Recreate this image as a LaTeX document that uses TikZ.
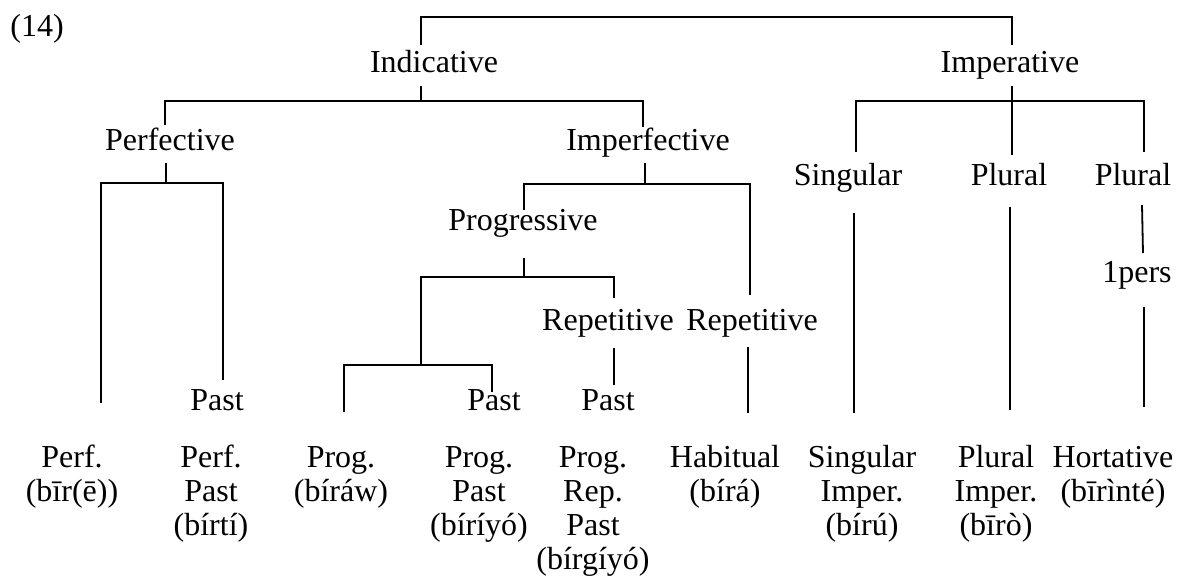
\documentclass[tikz,border=0pt]{standalone}
\usepackage{fontspec}
\setmainfont{Liberation Serif}
\usetikzlibrary{calc}

\begin{document}
\begin{tikzpicture}[x=0.5pt, y=-0.5pt, line width=0.9pt,
	lab/.style={anchor=base, inner sep=0pt, outer sep=0pt, text height=10pt, text depth=3pt, font=\fontsize{16}{17}\selectfont},
	leaf/.style={anchor=north, inner sep=0pt, outer sep=0pt, align=center, font=\fontsize{16}{17}\selectfont}]
	\useasboundingbox (0,0) rectangle (1178,579);
	\node[lab] (num) at (37,36) {(14)};
	% upper levels
	\node[lab] (ind) at (434,72) {Indicative};
	\node[lab] (imp) at (1010,72) {Imperative};
	\node[lab] (perf) at (170,150) {Perfective};
	\node[lab] (impf) at (648,150) {Imperfective};
	\node[lab] (sing) at (848,185) {Singular};
	\node[lab] (plu) at (1009,185) {Plural};
	\node[lab] (plu2) at (1133,185) {Plural};
	\node[lab] (prog) at (523,230) {Progressive};
	\node[lab] (pers) at (1137,282) {1pers};
	\node[lab] (rep1) at (608,330) {Repetitive};
	\node[lab] (rep2) at (752,330) {Repetitive};
	\node[lab] (past1) at (217,410) {Past};
	\node[lab] (past2) at (494,410) {Past};
	\node[lab] (past3) at (608,410) {Past};
	% forms
	\node[leaf] (perfA) at (72,444) {\strut Perf.\\(bīr(ē))};
	\node[leaf] (perfB) at (211,444) {\strut Perf.\\Past\\(bírtí)};
	\node[leaf] (progA) at (341,444) {\strut Prog.\\(bíráw)};
	\node[leaf] (progB) at (479,444) {\strut Prog.\\Past\\(bíríyó)};
	\node[leaf] (progC) at (593,444) {\strut Prog.\\Rep.\\Past\\(bírgíyó)};
	\node[leaf] (hab) at (725,444) {\strut Habitual\\(bírá)};
	\node[leaf] (singI) at (862,444) {\strut Singular\\Imper.\\(bírú)};
	\node[leaf] (pluI) at (996,444) {\strut Plural\\Imper.\\(bīrò)};
	\node[leaf] (hort) at (1113,444) {\strut Hortative\\(bīrìnté)};
	\coordinate (fork) at (421,365);
	% brackets
	\draw ($(ind.north)+(-13,-7)$) -- ++(0,-28) -| ($(imp.north)+(2,-7)$);
	\draw ($(ind.south)+(-13,8)$) -- ++(0,15);
	\draw ($(perf.north)+(-5,-5)$) |- ($(impf.north)+(-5,-29)$) -- ($(impf.north)+(-5,-3)$);
	\draw ($(imp.south)+(2,8)$) -- ++(0,15);
	\draw ($(sing.north)+(8,-13)$) |- ($(plu2.north)+(11,-64)$) -- ($(plu2.north)+(11,-13)$);
	\draw ($(plu.north)+(3,-64)$) -- ($(plu.north)+(3,-10)$);
	\draw ($(perf.south)+(-4,7)$) -- ++(0,20);
	\draw ($(perfA.north)+(29,-41)$) |- ($(perf.south)+(-4,27)$) -| ($(past1.north)+(6,-10)$);
	\draw ($(impf.south)+(-3,7)$) -- ++(0,21);
	\draw ($(prog.north)+(1,0)$) |- ($(impf.south)+(-3,28)$) -| ($(rep2.north)+(-2,-15)$);
	\draw ($(prog.south)+(1,22)$) -- ++(0,19);
	\draw ($(prog.south)+(1,41)$) -| ($(rep1.north)+(6,-12)$);
	\draw ($(prog.south)+(1,41)$) -| (fork);
	\draw ($(progA.north)+(3,-32)$) |- (fork) -| ($(past2.north)+(-2,2)$);
	\draw ($(rep1.south)+(6,12)$) -- ($(past3.north)+(6,-5)$);
	\draw ($(rep2.south)+(-4,11)$) -- ($(hab.north)+(23,-31)$);
	\draw ($(sing.south)+(6,22)$) -- ($(singI.north)+(-8,-31)$);
	\draw ($(plu.south)+(1,16)$) -- ($(pluI.north)+(14,-34)$);
	\draw ($(plu2.south)+(9,14)$) -- ($(pers.north)+(6,-9)$);
	\draw ($(pers.south)+(7,19)$) -- ($(hort.north)+(31,-37)$);
\end{tikzpicture}
\end{document}
